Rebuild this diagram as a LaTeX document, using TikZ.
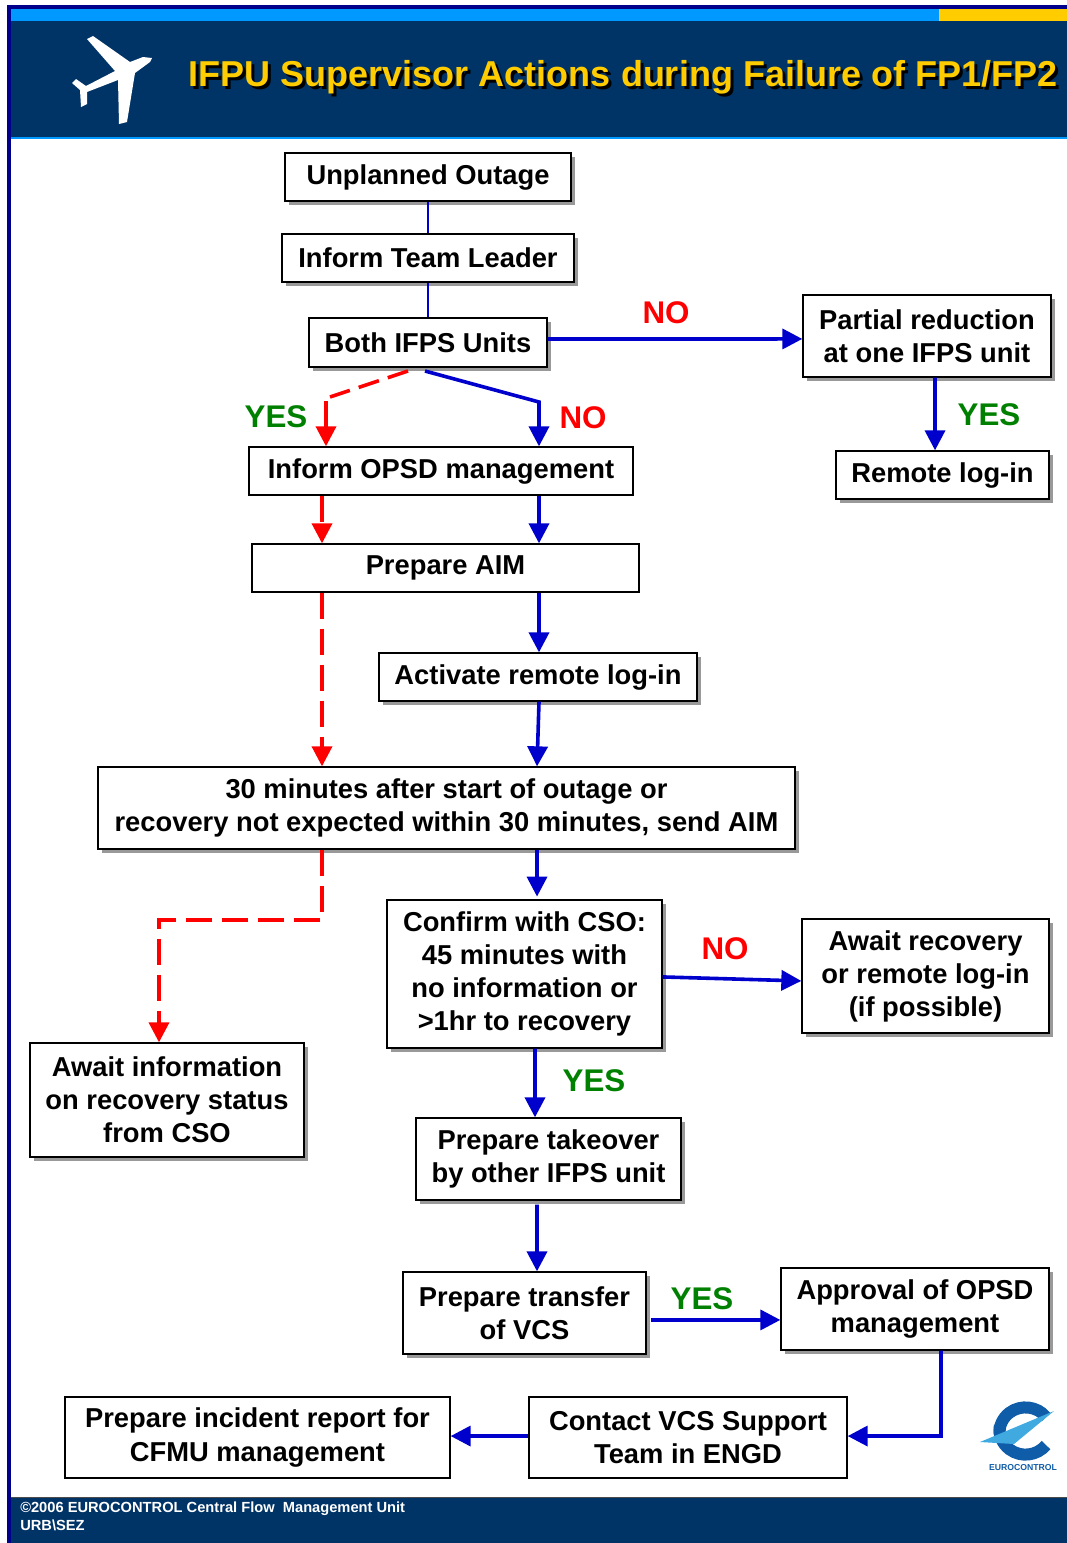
\documentclass[tikz,border=0pt]{standalone}
\usepackage{fontspec}
\setmainfont{Liberation Sans}
\usetikzlibrary{arrows.meta,shadows}
\definecolor{navy}{HTML}{00008B}
\definecolor{header}{HTML}{003366}
\definecolor{skyline}{HTML}{0099FF}
\definecolor{gold}{HTML}{FFCC00}
\definecolor{flow}{HTML}{0000CC}
\definecolor{yesgreen}{HTML}{008000}
\definecolor{logoblue}{HTML}{0F5CA8}
\definecolor{logosky}{HTML}{3FA9E0}
\begin{document}
\begin{tikzpicture}[x=0.75pt,y=-0.75pt,
        box/.style 2 args={draw=black,fill=white,line width=1pt,inner sep=0pt,align=center,
            minimum width=#1*0.75pt,minimum height=#2*0.75pt,
            font=\fontsize{20.5}{24.8}\selectfont\bfseries},
        shadowed/.style={drop shadow={shadow xshift=3pt,shadow yshift=-3pt,fill=black!40,opacity=1}},
        slight/.style={drop shadow={shadow xshift=1pt,shadow yshift=-1pt,fill=black!40,opacity=1}},
        thinlink/.style={draw=flow,line width=0.8pt},
        bluelink/.style={draw=flow,line width=2.7pt,-{Triangle[length=15pt,width=15pt,fill=flow]}},
        redlink/.style={draw=red,line width=2.7pt,dash pattern=on 20pt off 7pt,
            -{Triangle[length=15pt,width=15pt,fill=red]}},
        nolabel/.style={text=red,inner sep=0pt,font=\fontsize{23.5}{26}\selectfont\bfseries},
        yeslabel/.style={text=yesgreen,inner sep=0pt,font=\fontsize{23.5}{26}\selectfont\bfseries}]

    \useasboundingbox (0,0) rectangle (1067,1543);

    % page frame, header and footer
    \fill[navy] (7,5) rectangle (1067,9);
    \fill[navy] (7,5) rectangle (11,1543);
    \fill[skyline] (11,9) rectangle (939,21);
    \fill[gold] (939,9) rectangle (1067,21);
    \fill[header] (11,21) rectangle (1067,137);
    \fill[skyline] (11,137) rectangle (1067,139);
    \fill[header] (11,1497) rectangle (1067,1543);
    \fill[black!70] (11,1497) rectangle (1067,1498);

    \fill[white] (87,39) -- (93,36) -- (130,62) -- (143,57) -- (152,58) -- (150,62) -- (135,73)
        -- (127,122) -- (119,124) -- (118,80) -- (87,92) -- (87,104) -- (81,107) -- (80,90)
        -- (72,83) -- (76,79) -- (86,86) -- (115,71) -- cycle;

    \node[text=black,inner sep=0pt,font=\fontsize{27}{30}\selectfont\bfseries] (titleshade) at (626,80)
        {IFPU Supervisor Actions during Failure of FP1/FP2};
    \node[text=gold,inner sep=0pt,font=\fontsize{27}{30}\selectfont\bfseries] (title) at (623,77)
        {IFPU Supervisor Actions during Failure of FP1/FP2};

    \node[text=white,inner sep=0pt,align=left,anchor=north west,
        font=\fontsize{11}{13.5}\selectfont\bfseries] (footer) at (20,1502)
        {©2006 EUROCONTROL Central Flow\ \ Management Unit\\URB\textbackslash SEZ};

    % logo
    \draw[logoblue,line width=9pt] (1048,1415) arc (-35+0:-215:0pt and 0pt);
    \draw[logoblue,line width=9pt] (1046,1417) arc (-38:-185:26 and 25);
    \draw[logoblue,line width=9pt] (995,1440) arc (160:40:0 and 0);
    \draw[logoblue,line width=9pt] (1046,1445) arc (38:190:26 and 25);
    \fill[logosky] (980,1442) -- (1054,1411) -- (1014,1444) -- cycle;
    \node[text=logoblue,inner sep=0pt,font=\fontsize{6.5}{8}\selectfont\bfseries] (logotext) at (1023,1467) {EUROCONTROL};

    \node[box={286}{48},shadowed] (outage) at (428,177) {Unplanned Outage};
    \node[box={292}{48},shadowed] (leader) at (428,258) {Inform Team Leader};
    \node[box={238}{49},shadowed] (both) at (428,342.5) {Both IFPS Units};
    \node[box={248}{82},shadowed] (partial) at (927,336) {Partial reduction\\at one IFPS unit};
    \node[box={213}{48},shadowed] (remote) at (942.5,475) {Remote log-in};
    \node[box={384}{48},slight] (opsd) at (441,471) {Inform OPSD management};
    \node[box={387}{48}] (aim) at (445.5,568) {Prepare AIM};
    \node[box={318}{48},shadowed] (activate) at (538,677) {Activate remote log-in};
    \node[box={697}{82},shadowed] (thirty) at (446.5,808) {30 minutes after start of outage or\\recovery not expected within 30 minutes, send AIM};
    \node[box={275}{148},shadowed] (confirm) at (524.5,974) {Confirm with CSO:\\45 minutes with\\no information or\\>1hr to recovery};
    \node[box={247}{114},shadowed] (recovery) at (925.5,976) {Await recovery\\or remote log-in\\(if possible)};
    \node[box={274}{114},shadowed] (status) at (167,1100) {Await information\\on recovery status\\from CSO};
    \node[box={265}{82},shadowed] (takeover) at (548.5,1159) {Prepare takeover\\by other IFPS unit};
    \node[box={243}{82},shadowed] (transfer) at (524.5,1313) {Prepare transfer\\of VCS};
    \node[box={268}{82},shadowed] (approval) at (915,1309) {Approval of OPSD\\management};
    \node[box={318}{81}] (contact) at (688,1437.5) {Contact VCS Support\\Team in ENGD};
    \node[box={385}{81}] (incident) at (257.5,1437.5) {Prepare incident report for\\CFMU management};

    \node[nolabel] (notop) at (666,313) {NO};
    \node[yeslabel] (yesremote) at (989,415) {YES};
    \node[yeslabel] (yesboth) at (276,417) {YES};
    \node[nolabel] (noboth) at (583,418) {NO};
    \node[nolabel] (noconfirm) at (725,949) {NO};
    \node[yeslabel] (yesconfirm) at (594,1081) {YES};
    \node[yeslabel] (yestransfer) at (702,1299) {YES};

    \coordinate (redlane) at (322,0);
    \coordinate (bluelane) at (539,0);
    \coordinate (redsplit) at (408,371);
    \coordinate (redbend) at (330,397);
    \coordinate (redstub) at (326,401);
    \coordinate (bluesplit) at (425,371);
    \coordinate (bluebend) at (539,402);
    \coordinate (redkneeright) at (322,920);
    \coordinate (redkneeleft) at (159,920);
    \coordinate (approvalknee) at (941,1436);

    \draw[thinlink] (outage) -- (leader);
    \draw[thinlink] (leader) -- (both);
    \draw[bluelink] ([yshift=2.6pt]both.east) -- ([yshift=-2.2pt]partial.west);
    \draw[bluelink] ([xshift=6pt]partial.south) -- ([xshift=-5.6pt]remote.north);
    \draw[draw=red,line width=2.7pt,dash pattern=on 16pt off 7pt] (redsplit) -- (redbend);
    \draw[bluelink,line join=miter] (bluesplit) -- (bluebend) -- (bluebend |- opsd.north);
    \draw[draw=red,line width=2.7pt,-{Triangle[length=15pt,width=15pt,fill=red]}] (redstub) -- (redstub |- opsd.north);
    \draw[redlink] (opsd.south -| redlane) -- (aim.north -| redlane);
    \draw[bluelink] (opsd.south -| bluelane) -- (aim.north -| bluelane);
    \draw[redlink] (aim.south -| redlane) -- (thirty.north -| redlane);
    \draw[bluelink] (aim.south -| bluelane) -- (activate.north -| bluelane);
    \draw[bluelink] (activate.south -| bluelane) -- ([xshift=67.9pt]thirty.north);
    \draw[redlink] (thirty.south -| redlane) -- (redkneeright) -- (redkneeleft) -- (redkneeleft |- status.north);
    \draw[bluelink] ([xshift=67.9pt]thirty.south) -- ([xshift=67.9pt,yshift=-35.2pt]thirty.south);
    \draw[bluelink] ([yshift=-2.2pt]confirm.east) -- ([yshift=-3.7pt]recovery.west);
    \draw[bluelink] ([xshift=7.9pt]confirm.south) -- (takeover.north -| 535,0);
    \draw[bluelink] ([xshift=-8.6pt,yshift=-3pt]takeover.south) -- (transfer.north -| 537,0);
    \draw[bluelink] ([xshift=3pt,yshift=-5.2pt]transfer.east) -- ([yshift=-8.2pt]approval.west);
    \draw[bluelink] (approval.south -| approvalknee) -- (approvalknee) -- ([yshift=1.1pt]contact.east);
    \draw[bluelink] ([yshift=1.1pt]contact.west) -- ([yshift=1.1pt]incident.east);
\end{tikzpicture}
\end{document}
